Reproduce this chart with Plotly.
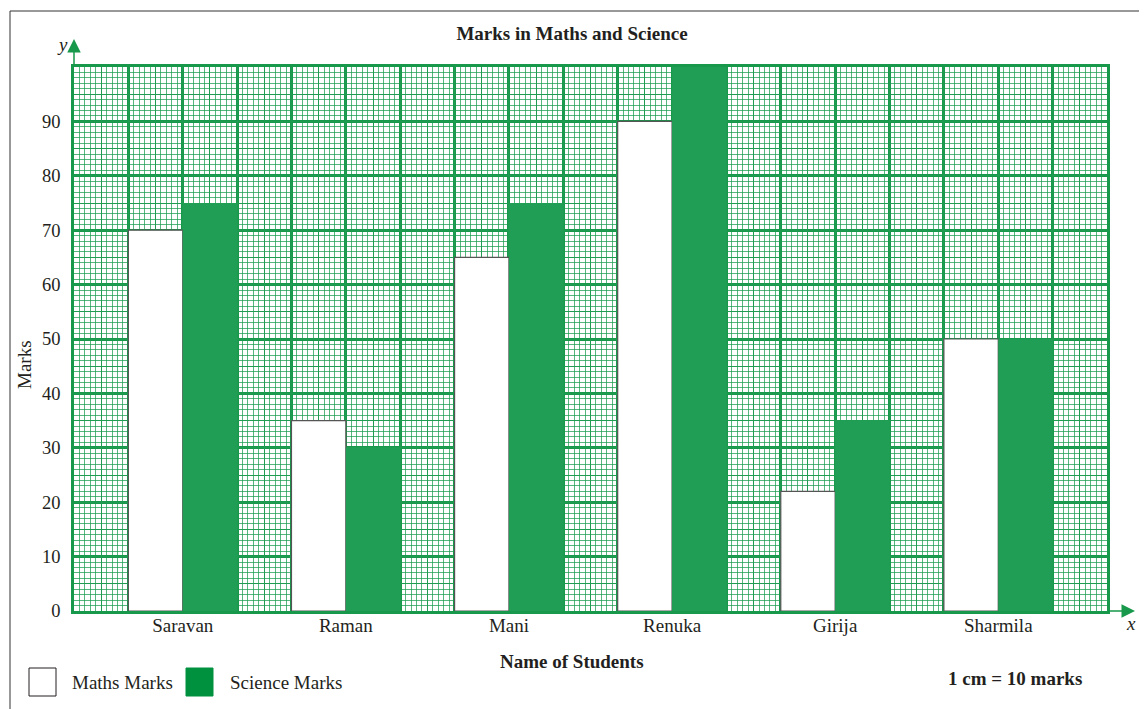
import plotly.graph_objects as go

# ---------------- data ----------------
students = ["Saravan", "Raman", "Mani", "Renuka", "Girija", "Sharmila"]
maths_marks = [70, 35, 65, 90, 22, 50]
science_marks = [75, 30, 75, 100, 35, 50]
y_tick_values = [0, 10, 20, 30, 40, 50, 60, 70, 80, 90]

# ---------------- geometry / style ----------------
W, H = 1147, 709
OFF = 8  # default page body margin of the written html
# plot box in page pixel coordinates
PX0, PX1, PY0, PY1 = 74, 1107, 67, 611
L = PX0 - OFF
T = PY0 - OFF
R = W - (PX1 - OFF)
B = H - (PY1 - OFF)
PW = PX1 - PX0
PH = PY1 - PY0

SERIF = "Liberation Serif, Times New Roman, serif"
TXT = "#231f20"
GREEN_MAJOR = "#17984a"
GREEN_MED = "#1f9c51"
GREEN_FINE = "rgba(30,158,82,0.75)"
SCI_FILL = "#219e55"
SCI_LEGEND = "#00913f"


def fx(x):
    return (x - PX0) / PW


def fy(y):
    return (PY1 - y) / PH


fig = go.Figure()

fig.add_trace(go.Bar(
    name="Maths Marks", x=students, y=maths_marks,
    marker=dict(color="white", line=dict(color="#555555", width=1.2)),
))
fig.add_trace(go.Bar(
    name="Science Marks", x=students, y=science_marks,
    marker=dict(color=SCI_FILL, line=dict(width=0)),
))
# empty helper traces that carry the graph-paper grid axes
fig.add_trace(go.Scatter(x=[], y=[], xaxis="x2", yaxis="y2", showlegend=False, hoverinfo="skip"))
fig.add_trace(go.Scatter(x=[], y=[], xaxis="x3", yaxis="y2", showlegend=False, hoverinfo="skip"))

n_squares = 3 * len(students) + 1

fig.update_layout(
    width=W, height=H,
    margin=dict(l=L, r=R, t=T, b=B),
    paper_bgcolor="white", plot_bgcolor="white",
    barmode="group", bargap=1 / 3, bargroupgap=0,
    showlegend=False,
    font=dict(family=SERIF, size=19, color=TXT),
    title=dict(text="<b>Marks in Maths and Science</b>", xref="container", yref="container",
               x=(572 - OFF) / W, y=1 - (33 - OFF) / H, xanchor="center", yanchor="middle",
               font=dict(family=SERIF, size=19, color=TXT)),
    xaxis=dict(type="category", range=[-2 / 3, (n_squares - 2) / 3], showgrid=False,
               showline=True, linecolor=GREEN_MAJOR, linewidth=2.5, mirror=True,
               ticks="", tickfont=dict(family=SERIF, size=19, color=TXT),
               ticklabelstandoff=-5, zeroline=False),
    yaxis=dict(range=[0, 100], tickmode="array", tickvals=y_tick_values,
               showgrid=True, gridcolor=GREEN_MAJOR, gridwidth=2.5,
               minor=dict(dtick=1, tick0=0, showgrid=True, gridcolor=GREEN_FINE, gridwidth=1, ticks=""),
               showline=True, linecolor=GREEN_MAJOR, linewidth=2.5, mirror=True,
               ticks="", tickfont=dict(family=SERIF, size=18.5, color=TXT),
               ticklabelstandoff=7, zeroline=False),
    xaxis2=dict(overlaying="x", anchor="y2", range=[0, n_squares], dtick=1, tick0=0,
                showgrid=True, gridcolor=GREEN_MAJOR, gridwidth=2.5,
                minor=dict(dtick=0.1, tick0=0, showgrid=True, gridcolor=GREEN_FINE, gridwidth=1, ticks=""),
                showticklabels=False, ticks="", showline=False, zeroline=False),
    xaxis3=dict(overlaying="x", anchor="y2", range=[0, n_squares], dtick=0.5, tick0=0,
                showgrid=True, gridcolor=GREEN_MED, gridwidth=1.4,
                showticklabels=False, ticks="", showline=False, zeroline=False),
    yaxis2=dict(overlaying="y", anchor="x2", range=[0, 100], dtick=5, tick0=0,
                showgrid=True, gridcolor=GREEN_MED, gridwidth=1.4,
                showticklabels=False, ticks="", showline=False, zeroline=False),
)

shapes = [
    # page frame
    dict(type="line", xref="paper", yref="paper", x0=fx(10), x1=fx(W + 20), y0=fy(11), y1=fy(11),
         line=dict(color="#333333", width=1)),
    dict(type="line", xref="paper", yref="paper", x0=fx(10), x1=fx(10), y0=fy(11), y1=fy(H + 20),
         line=dict(color="#333333", width=1)),
    # legend swatches
    dict(type="rect", xref="paper", yref="paper", x0=fx(29), x1=fx(56), y0=fy(696), y1=fy(668),
         fillcolor="white", line=dict(color=TXT, width=1)),
    dict(type="rect", xref="paper", yref="paper", x0=fx(186), x1=fx(213), y0=fy(696), y1=fy(668),
         fillcolor=SCI_LEGEND, line=dict(color=SCI_LEGEND, width=1)),
]
fig.update_layout(shapes=shapes)

ann = [
    dict(text="Maths Marks", x=fx(70), y=fy(682), xanchor="left", yanchor="middle"),
    dict(text="Science Marks", x=fx(228), y=fy(682), xanchor="left", yanchor="middle"),
    dict(text="<b>1 cm = 10 marks</b>", x=fx(1015), y=fy(678), xanchor="center", yanchor="middle"),
    dict(text="<b>Name of Students</b>", x=fx(572), y=fy(661), xanchor="center", yanchor="middle"),
    dict(text="Marks", x=fx(24), y=fy(365), xanchor="center", yanchor="middle", textangle=-90),
    dict(text="<i>y</i>", x=fx(62), y=fy(45), xanchor="center", yanchor="middle"),
    dict(text="<i>x</i>", x=fx(1131), y=fy(623), xanchor="center", yanchor="middle"),
]
for a in ann:
    a.update(xref="paper", yref="paper", showarrow=False,
             font=dict(family=SERIF, size=19, color=TXT))

# axis arrows
ann.append(dict(x=fx(74), y=fy(39), xref="paper", yref="paper", ax=0, ay=28, text="",
                showarrow=True, arrowhead=2, arrowsize=1.8, arrowwidth=1.5, arrowcolor=GREEN_MAJOR))
ann.append(dict(x=fx(1135), y=fy(611), xref="paper", yref="paper", ax=-28, ay=0, text="",
                showarrow=True, arrowhead=2, arrowsize=1.8, arrowwidth=1.5, arrowcolor=GREEN_MAJOR))
fig.update_layout(annotations=ann)

fig.write_html("out.html")
